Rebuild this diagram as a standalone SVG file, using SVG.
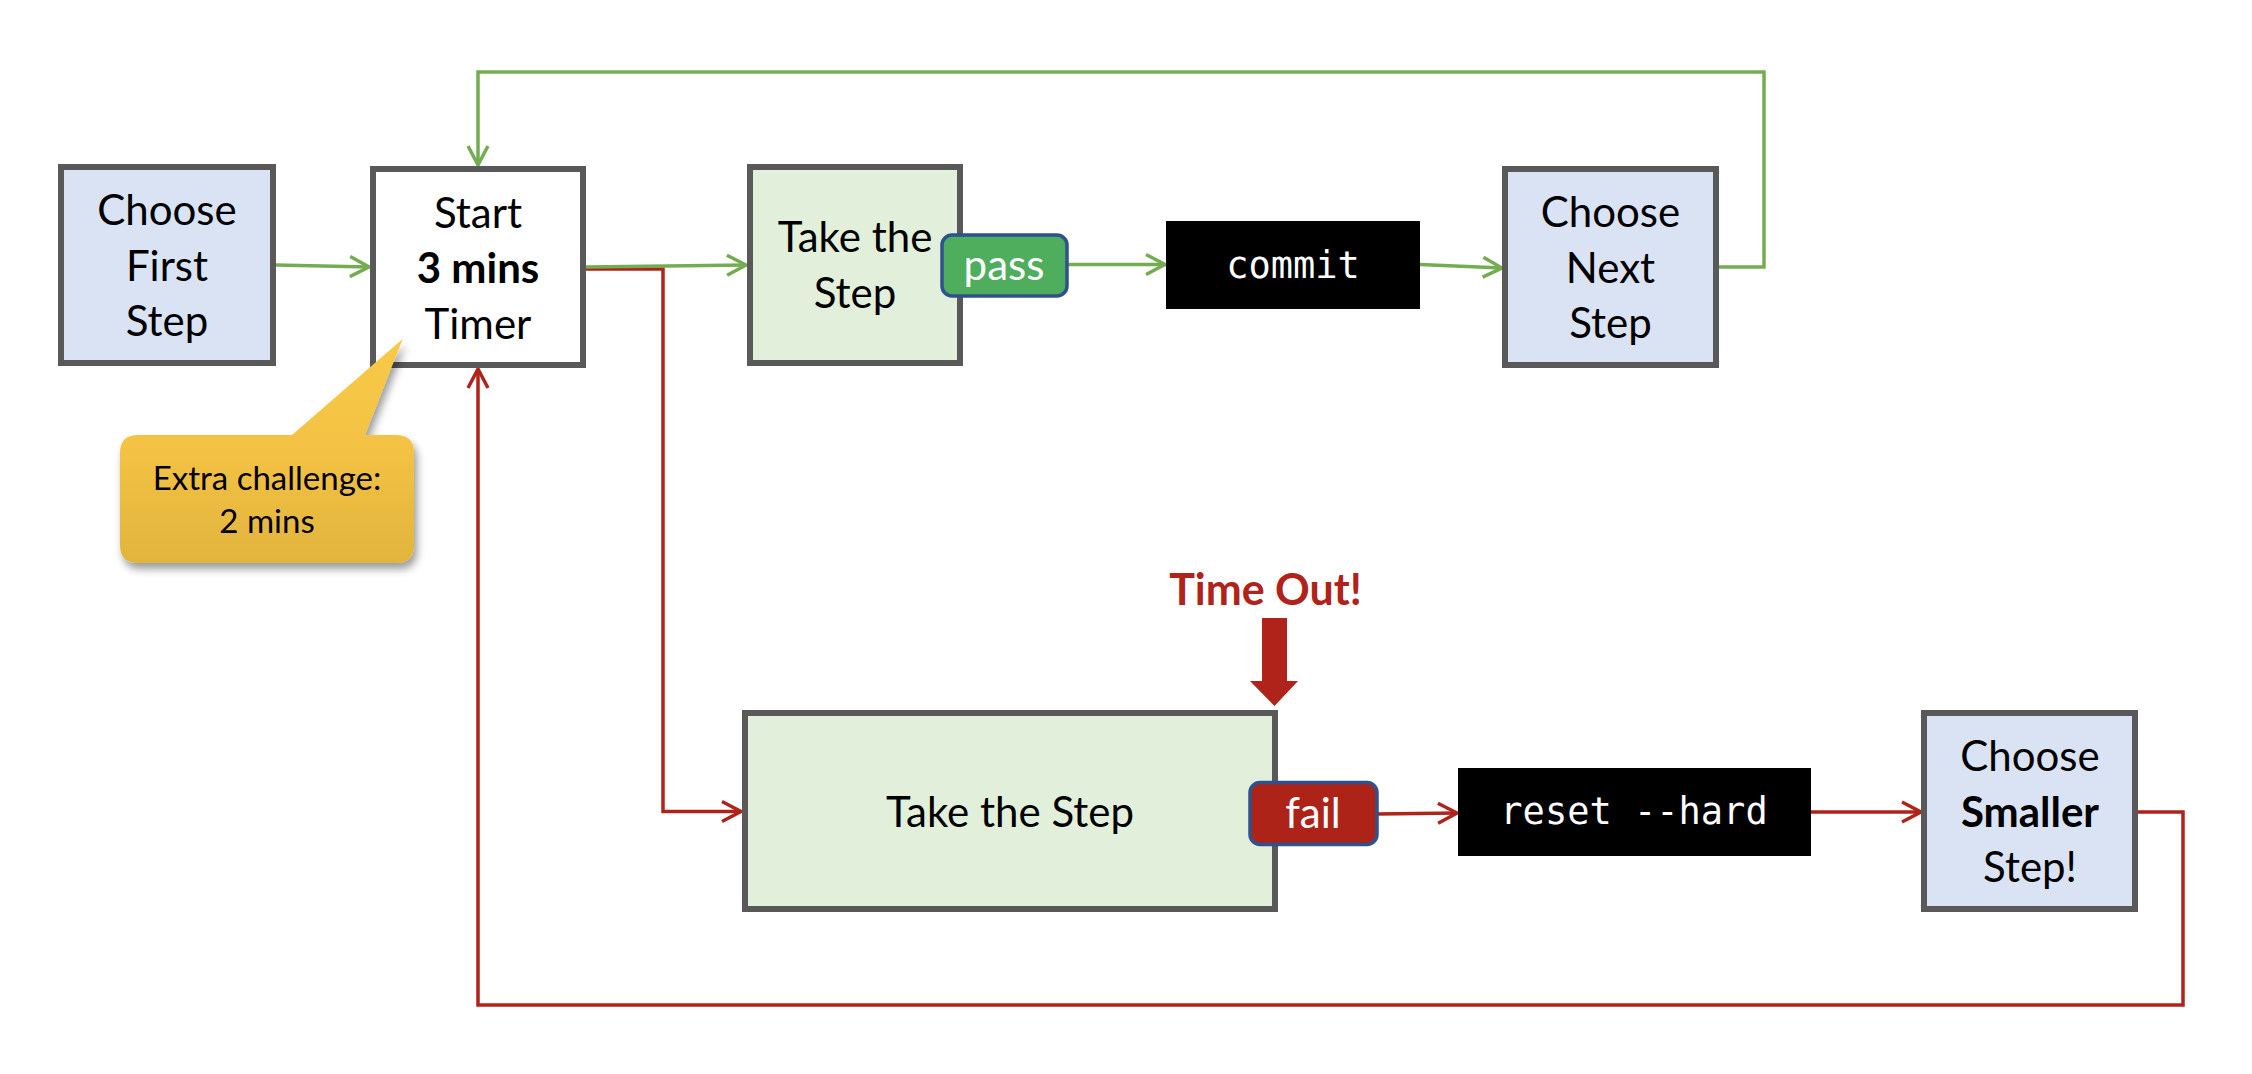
<svg xmlns="http://www.w3.org/2000/svg" width="2252" height="1074" viewBox="0 0 2252 1074">
<style>
.box{stroke:#595959;stroke-width:6}
.blue{fill:#DAE3F3}
.green{fill:#E2EFDA}
.white{fill:#FFFFFF}
.t{font-family:Lato,"Open Sans",sans-serif;font-size:42px;fill:#000;text-anchor:middle}
.b{font-weight:bold}
.mono{font-family:"DejaVu Sans Mono","Liberation Mono",monospace;font-size:37px;fill:#FFF;text-anchor:middle}
.badge{stroke:#2F528F;stroke-width:3.5}
.bt{font-family:Lato,"Open Sans",sans-serif;font-size:42px;fill:#FFF;text-anchor:middle}
.cg{fill:none;stroke:#74AD51;stroke-width:3.5;marker-end:url(#ag)}
.cr{fill:none;stroke:#B0231A;stroke-width:3.5;marker-end:url(#ar)}
</style>
<defs>
<marker id="ag" viewBox="-24 -14 28 28" markerWidth="28" markerHeight="28" refX="0" refY="0" orient="auto" markerUnits="userSpaceOnUse">
<path d="M-19,-10 L0,0 L-19,10" fill="none" stroke="#74AD51" stroke-width="3.5"/>
</marker>
<marker id="ar" viewBox="-24 -14 28 28" markerWidth="28" markerHeight="28" refX="0" refY="0" orient="auto" markerUnits="userSpaceOnUse">
<path d="M-19,-10 L0,0 L-19,10" fill="none" stroke="#B0231A" stroke-width="3.5"/>
</marker>
<linearGradient id="gold" gradientUnits="userSpaceOnUse" x1="0" y1="339" x2="0" y2="563">
<stop offset="0" stop-color="#F8C946"/>
<stop offset="0.5" stop-color="#F3C244"/>
<stop offset="1" stop-color="#E2B43D"/>
</linearGradient>
<filter id="sh" x="-20%" y="-20%" width="140%" height="150%">
<feGaussianBlur in="SourceAlpha" stdDeviation="4"/>
<feOffset dx="3" dy="6" result="o"/>
<feComponentTransfer><feFuncA type="linear" slope="0.4"/></feComponentTransfer>
<feMerge><feMergeNode/><feMergeNode in="SourceGraphic"/></feMerge>
</filter>
</defs>
<rect width="2252" height="1074" fill="#FFFFFF"/>

<g id="connectors">
<path class="cr" d="M586,269 L663,269 L663,811.5 L741,811.5"/>
<path class="cr" d="M2138,812 L2183,812 L2183,1005 L478,1005 L478,369"/>
<path class="cr" d="M1377,814 L1457,813"/>
<path class="cr" d="M1811,812 L1921,812"/>
<path class="cg" d="M276,265 L369,267"/>
<path class="cg" d="M586,267 L746,265"/>
<path class="cg" d="M1066,264.5 L1165,264.5"/>
<path class="cg" d="M1420,264.5 L1502,268"/>
<path class="cg" d="M1719,267 L1764,267 L1764,72 L478,72 L478,165"/>
</g>

<g id="choose-first">
<rect class="box blue" x="61" y="167" width="212" height="196"/>
<text class="t" x="167" y="225">Choose</text>
<text class="t" x="167" y="280.5">First</text>
<text class="t" x="167" y="336">Step</text>
</g>

<g id="start-timer">
<rect class="box white" x="373" y="169" width="210" height="196"/>
<text class="t" x="478" y="227.7">Start</text>
<text class="t b" x="478" y="283.3">3 mins</text>
<text class="t" x="478" y="339.3">Timer</text>
</g>

<g id="callout">
<path filter="url(#sh)" fill="url(#gold)" d="M138,435 L292,435 L402.6,339 L365,435 L396,435 Q414,435 414,453 L414,545 Q414,563 396,563 L138,563 Q120,563 120,545 L120,453 Q120,435 138,435 Z"/>
<text class="t" style="font-size:33px" x="267" y="490">Extra challenge:</text>
<text class="t" style="font-size:33px" x="267" y="533.3">2 mins</text>
</g>

<g id="take-step-top">
<rect class="box green" x="750" y="167" width="210" height="196"/>
<text class="t" x="855" y="252.3">Take the</text>
<text class="t" x="855" y="308">Step</text>
</g>

<g id="pass">
<rect class="badge" fill="#4FAE5D" x="942" y="235" width="125" height="61" rx="10"/>
<text class="bt" x="1004" y="280">pass</text>
</g>

<g id="commit">
<rect fill="#000" x="1166" y="221" width="254" height="88"/>
<text class="mono" x="1293" y="277.7">commit</text>
</g>

<g id="choose-next">
<rect class="box blue" x="1505" y="169" width="211" height="196"/>
<text class="t" x="1610.5" y="226.7">Choose</text>
<text class="t" x="1610.5" y="283.3">Next</text>
<text class="t" x="1610.5" y="338.3">Step</text>
</g>

<g id="time-out">
<text class="t b" style="font-size:43px;fill:#B0231A" x="1265.5" y="605">Time Out!</text>
<polygon fill="#B0231A" points="1262,618 1287,618 1287,681 1298,681 1274.5,706 1250,681 1262,681"/>
</g>

<g id="take-step-bottom">
<rect class="box green" x="745" y="713" width="530" height="196"/>
<text class="t" x="1010" y="826.7">Take the Step</text>
</g>

<g id="fail">
<rect class="badge" fill="#AE2318" x="1250" y="782.5" width="127" height="62" rx="10"/>
<text class="bt" x="1313" y="827.7">fail</text>
</g>

<g id="reset">
<rect fill="#000" x="1458" y="768" width="353" height="88"/>
<text class="mono" x="1634" y="824">reset --hard</text>
</g>

<g id="choose-smaller">
<rect class="box blue" x="1924" y="713" width="211" height="196"/>
<text class="t" x="2030" y="770.7">Choose</text>
<text class="t b" x="2030" y="827.3">Smaller</text>
<text class="t" x="2030" y="882.3">Step!</text>
</g>
</svg>
